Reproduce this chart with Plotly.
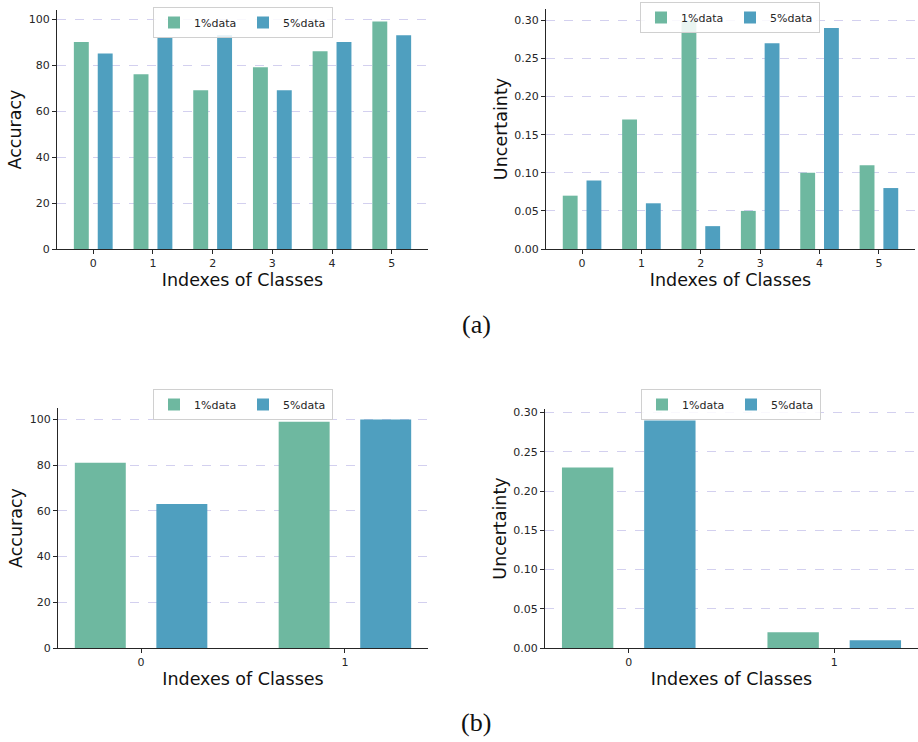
import plotly.graph_objects as go

# ---- data ----
classes_a = [0, 1, 2, 3, 4, 5]
acc_a_1pct = [90, 76, 69, 79, 86, 99]
acc_a_5pct = [85, 92, 93, 69, 90, 93]
unc_a_1pct = [0.07, 0.17, 0.30, 0.05, 0.10, 0.11]
unc_a_5pct = [0.09, 0.06, 0.03, 0.27, 0.29, 0.08]

classes_b = [0, 1]
acc_b_1pct = [81, 99]
acc_b_5pct = [63, 100]
unc_b_1pct = [0.23, 0.02]
unc_b_5pct = [0.29, 0.01]

series_names = ["1%data", "5%data"]
acc_ticks = [0, 20, 40, 60, 80, 100]
unc_ticks = [0.0, 0.05, 0.10, 0.15, 0.20, 0.25, 0.30]

GREEN = "#6eb8a0"
BLUE = "#4f9fbf"
FONT = "DejaVu Sans"
W, H = 918, 742

def xd(a, b):
    return [a / W, b / W]

def yd(top, bottom):
    return [1 - bottom / H, 1 - top / H]

panels = [
    ("", (57, 428), (10, 249), classes_a, acc_a_1pct, acc_a_5pct, [0, 103.95], acc_ticks, "d", "Accuracy", "legend", 243, 7),
    ("2", (546, 915), (9, 249), classes_a, unc_a_1pct, unc_a_5pct, [0, 0.315], unc_ticks, ".2f", "Uncertainty", "legend2", 730, 2),
    ("3", (58, 428), (408, 648), classes_b, acc_b_1pct, acc_b_5pct, [0, 105], acc_ticks, "d", "Accuracy", "legend3", 243, 389),
    ("4", (545, 918), (409, 648), classes_b, unc_b_1pct, unc_b_5pct, [0, 0.3045], unc_ticks, ".2f", "Uncertainty", "legend4", 731, 389),
]

fig = go.Figure()
layout = dict(
    width=W, height=H,
    margin=dict(l=0, r=0, t=0, b=0, autoexpand=False),
    paper_bgcolor="white", plot_bgcolor="white",
    font=dict(family=FONT, color="#262626"),
    barmode="overlay",
    showlegend=True,
)

for (aid, xp, yp, cls, v1, v5, yr, ticks, fmt, ytitle, lid, lcx, ltop) in panels:
    xa = "x" + aid
    ya = "y" + aid
    for vals, name, col, off in [(v1, series_names[0], GREEN, -0.325), (v5, series_names[1], BLUE, 0.075)]:
        fig.add_trace(go.Bar(
            x=cls, y=vals, name=name, marker=dict(color=col, line=dict(width=0)),
            offset=off, width=0.25, xaxis=xa, yaxis=ya, legend=lid,
        ))
    n = len(cls)
    span = (n - 1) + 0.65
    xr = [-0.325 - 0.05 * span, (n - 1) + 0.325 + 0.05 * span]
    layout["xaxis" + aid] = dict(
        domain=xd(*xp), anchor=ya, range=xr, automargin=False,
        tickmode="array", tickvals=cls, ticktext=[str(c) for c in cls],
        ticks="outside", ticklen=4, tickwidth=1.2, tickcolor="#262626",
        showline=True, linecolor="#262626", linewidth=1.3,
        showgrid=False, zeroline=False,
        tickfont=dict(size=11, family=FONT, color="#262626"),
        title=dict(text="Indexes of Classes", font=dict(size=17.5, family=FONT, color="#111"), standoff=4),
    )
    layout["yaxis" + aid] = dict(
        domain=yd(*yp), anchor=xa, range=yr, automargin=False,
        tickmode="array", tickvals=ticks,
        ticktext=[(f"{t:.2f}" if fmt == ".2f" else str(int(t))) for t in ticks],
        ticks="outside", ticklen=4, tickwidth=1.2, tickcolor="#262626",
        showline=True, linecolor="#262626", linewidth=1.3,
        showgrid=True, gridcolor="#d3d0ef", gridwidth=1, griddash="dash",
        zeroline=False,
        tickfont=dict(size=11, family=FONT, color="#262626"),
        title=dict(text=ytitle, font=dict(size=17.5, family=FONT, color="#111"), standoff=2),
    )
    layout[lid] = dict(
        orientation="h", x=lcx / W, xanchor="center", y=1 - ltop / H, yanchor="top",
        xref="paper", yref="paper",
        bgcolor="rgba(255,255,255,0.85)", bordercolor="#d0d0d0", borderwidth=1,
        font=dict(size=11, family=FONT, color="#262626"),
        entrywidth=44, entrywidthmode="pixels",
        itemsizing="constant", tracegroupgap=0,
    )

fig.update_layout(**layout)

for label, y in [("(a)", 325), ("(b)", 722)]:
    fig.add_annotation(
        text=label, x=476 / W, y=1 - y / H, xref="paper", yref="paper",
        xanchor="center", yanchor="middle", showarrow=False,
        font=dict(family="Liberation Serif", size=26, color="#111"),
    )

fig.write_html(
    "out.html",
    config={"displayModeBar": False},
    post_script="document.body.style.margin='0';document.body.style.overflow='hidden';",
)
